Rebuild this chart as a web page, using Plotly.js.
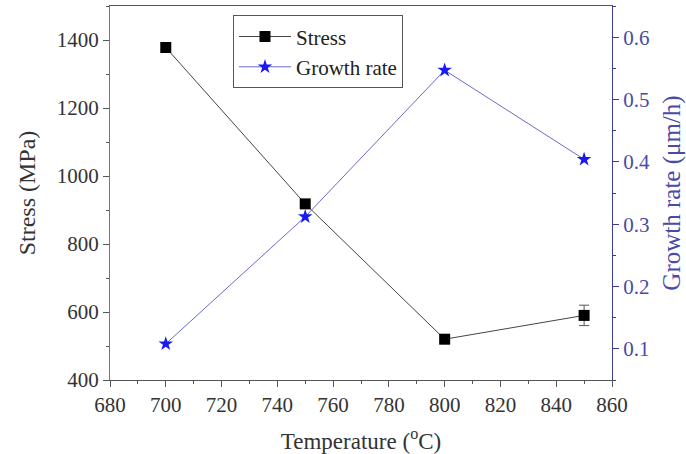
<!DOCTYPE html>
<html>
<head>
<meta charset="utf-8">
<script src="https://cdn.plot.ly/plotly-3.0.1.min.js"></script>
<style>html,body{margin:0;padding:0;background:#fff;}#chart{width:686px;height:454px;}</style>
</head>
<body>
<div id="chart"></div>
<script>
var temperature = [700, 750, 800, 850];
var stress = [1378, 918, 520, 590];
var stressErr = [8, 10, 8, 30];
var growthRate = [0.108, 0.312, 0.547, 0.404];

var fontFam = '"Liberation Serif", "Times New Roman", serif';
var blue = '#3b3b9e';

var traces = [
  {
    x: temperature, y: stress, name: 'Stress', type: 'scatter', mode: 'lines+markers',
    line: {color: '#444444', width: 1},
    marker: {symbol: 'square', size: 11, color: '#000000'},
    error_y: {type: 'data', array: stressErr, visible: true, color: '#555555', thickness: 1, width: 5},
    yaxis: 'y'
  },
  {
    x: temperature, y: growthRate, name: 'Growth rate', type: 'scatter', mode: 'lines+markers',
    line: {color: '#6a6ac8', width: 1},
    marker: {symbol: 'star', size: 11, color: '#1a1aee'},
    yaxis: 'y2'
  }
];

var layout = {
  width: 686, height: 454,
  margin: {l: 110, r: 74, t: 6, b: 74},
  paper_bgcolor: '#ffffff', plot_bgcolor: '#ffffff',
  font: {family: fontFam, size: 21, color: '#333333'},
  showlegend: true,
  legend: {x: 0.245, y: 0.975, xanchor: 'left', yanchor: 'top', bordercolor: '#555555', borderwidth: 1,
           bgcolor: '#ffffff', font: {family: fontFam, size: 21, color: '#222222'}, tracegroupgap: 0,
           itemwidth: 52},
  xaxis: {
    range: [680, 860], dtick: 20, tick0: 680, showgrid: false, zeroline: false,
    showline: true, linecolor: '#555555', linewidth: 1, mirror: true,
    ticks: 'outside', ticklen: 6, tickcolor: '#555555',
    minor: {dtick: 10, ticks: 'outside', ticklen: 3, tickcolor: '#555555', showgrid: false},
    tickfont: {family: fontFam, size: 21, color: '#333333'},
    title: {text: 'Temperature (<sup>o</sup>C)', font: {family: fontFam, size: 23, color: '#333333'}, standoff: 16}
  },
  yaxis: {
    range: [400, 1500], dtick: 200, tick0: 400, showgrid: false, zeroline: false,
    showline: true, linecolor: '#777777', linewidth: 1,
    ticks: 'outside', ticklen: 6, tickcolor: '#555555',
    minor: {dtick: 100, ticks: 'outside', ticklen: 3, tickcolor: '#555555', showgrid: false},
    tickfont: {family: fontFam, size: 21, color: '#333333'},
    title: {text: 'Stress (MPa)', font: {family: fontFam, size: 24, color: '#333333'}, standoff: 14}
  },
  yaxis2: {
    range: [0.05, 0.65], dtick: 0.1, tick0: 0.1, overlaying: 'y', side: 'right',
    showgrid: false, zeroline: false,
    showline: true, linecolor: blue, linewidth: 1,
    ticks: 'outside', ticklen: 6, tickcolor: blue,
    minor: {dtick: 0.05, ticks: 'outside', ticklen: 3, tickcolor: blue, showgrid: false},
    tickfont: {family: fontFam, size: 21, color: '#4a4aa8'},
    title: {text: 'Growth rate (μm/h)', font: {family: fontFam, size: 25, color: '#4a4aa8'}, standoff: 14}
  }
};

Plotly.newPlot('chart', traces, layout, {displayModeBar: false, staticPlot: true});
</script>
</body>
</html>
